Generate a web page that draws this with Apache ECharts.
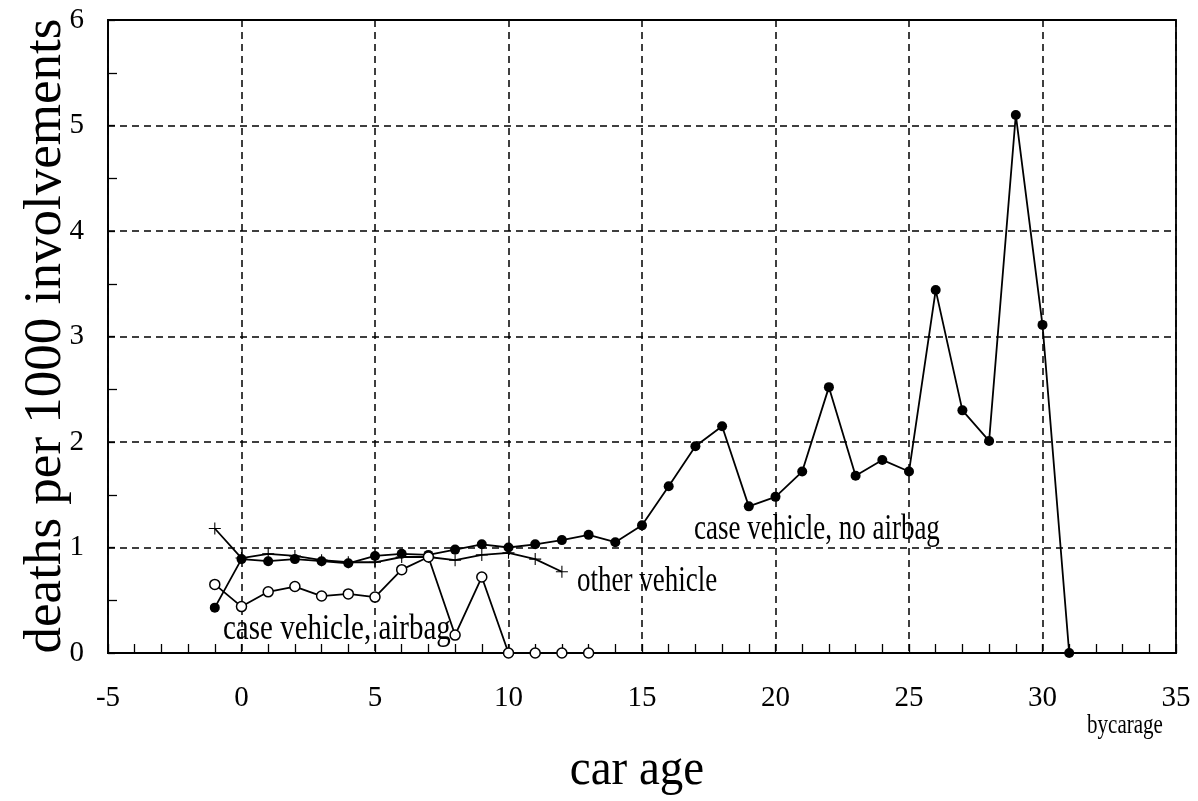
<!DOCTYPE html>
<html>
<head>
<meta charset="utf-8">
<script src="https://cdn.jsdelivr.net/npm/echarts@6/dist/echarts.min.js"></script>
<style>
  html, body { margin: 0; padding: 0; background: #fff; }
  #chart { width: 1198px; height: 801px; }
</style>
</head>
<body>
<div id="chart"></div>
<script>
// Deaths per 1000 involvements by car age
const noAirbagAge = [-1, 0, 1, 2, 3, 4, 5, 6, 7, 8, 9, 10, 11, 12, 13, 14, 15, 16, 17, 18, 19, 20, 21, 22, 23, 24, 25, 26, 27, 28, 29, 30, 31];
const noAirbag = [0.43, 0.89, 0.87, 0.89, 0.87, 0.85, 0.92, 0.94, 0.93, 0.98, 1.03, 1.00, 1.03, 1.07, 1.12, 1.05, 1.21, 1.58, 1.96, 2.15, 1.39, 1.48, 1.72, 2.52, 1.68, 1.83, 1.72, 3.44, 2.30, 2.01, 5.10, 3.11, 0.00];

const otherAge = [-1, 0, 1, 2, 3, 4, 5, 6, 7, 8, 9, 10, 11, 12];
const otherVehicle = [1.18, 0.90, 0.94, 0.92, 0.88, 0.86, 0.86, 0.91, 0.91, 0.88, 0.93, 0.95, 0.89, 0.77];

const airbagAge = [-1, 0, 1, 2, 3, 4, 5, 6, 7, 8, 9, 10, 11, 12, 13];
const airbag = [0.65, 0.44, 0.58, 0.63, 0.54, 0.56, 0.53, 0.79, 0.91, 0.17, 0.72, 0, 0, 0, 0];

const xTicks = [-5, 0, 5, 10, 15, 20, 25, 30, 35];
const yTicks = [0, 1, 2, 3, 4, 5, 6];

const pair = (xs, ys) => xs.map((x, i) => [x, ys[i]]);
const SERIF = "'Liberation Serif', 'Times New Roman', serif";
const PLUS = 'path://M-0.9,-10H0.9V10H-0.9Z M-10,-0.9H10V0.9H-10Z';

const chart = echarts.init(document.getElementById('chart'), null, { renderer: 'canvas' });

const dash = { color: '#000', width: 1.5, type: [7, 5] };

chart.setOption({
  animation: false,
  backgroundColor: '#fff',
  grid: {
    left: 108, right: 22, top: 20, bottom: 148,
    show: true, borderColor: '#000', borderWidth: 1.8, backgroundColor: 'transparent'
  },
  xAxis: {
    type: 'value',
    min: xTicks[0], max: xTicks[xTicks.length - 1], interval: 5,
    axisLine: { show: true, onZero: false, lineStyle: { color: '#000', width: 1.8 } },
    axisTick: { show: true, inside: true, length: 9, lineStyle: { color: '#000', width: 1.3 } },
    minorTick: { show: true, splitNumber: 5, length: 9, lineStyle: { color: '#000', width: 1.3 } },
    splitLine: { show: true, lineStyle: dash },
    axisLabel: {
      margin: 31, color: '#000', fontFamily: SERIF, fontSize: 29,
      formatter: v => xTicks.includes(v) ? String(v) : ''
    }
  },
  yAxis: {
    type: 'value',
    min: yTicks[0], max: yTicks[yTicks.length - 1], interval: 1,
    axisLine: { show: true, onZero: false, lineStyle: { color: '#000', width: 1.8 } },
    axisTick: { show: true, inside: true, length: 7, lineStyle: { color: '#000', width: 1.3 } },
    minorTick: { show: true, splitNumber: 2, length: 9, lineStyle: { color: '#000', width: 1.3 } },
    splitLine: { show: true, lineStyle: dash },
    axisLabel: {
      margin: 24, color: '#000', fontFamily: SERIF, fontSize: 29,
      formatter: v => yTicks.includes(v) ? String(v) : ''
    }
  },
  series: [
    {
      name: 'case vehicle, no airbag',
      type: 'line', data: pair(noAirbagAge, noAirbag), clip: false,
      symbol: 'circle', symbolSize: 10,
      lineStyle: { color: '#000', width: 1.8 },
      itemStyle: { color: '#000', borderWidth: 0 }
    },
    {
      name: 'other vehicle',
      type: 'line', data: pair(otherAge, otherVehicle), clip: false,
      symbol: PLUS, symbolSize: 12,
      lineStyle: { color: '#000', width: 1.8 },
      itemStyle: { color: '#000', borderWidth: 0 }
    },
    {
      name: 'case vehicle, airbag',
      type: 'line', data: pair(airbagAge, airbag), clip: false,
      symbol: 'circle', symbolSize: 10,
      lineStyle: { color: '#000', width: 1.8 },
      itemStyle: { color: '#fff', borderColor: '#000', borderWidth: 1.5 }
    }
  ],
  graphic: [
    { type: 'text', x: 223, y: 629, scaleY: 1.25, z: 10,
      style: { text: 'case vehicle, airbag', font: '29px ' + SERIF, fill: '#000', textAlign: 'left', textVerticalAlign: 'middle' } },
    { type: 'text', x: 577, y: 582, scaleY: 1.3, z: 10,
      style: { text: 'other vehicle', font: '27px ' + SERIF, fill: '#000', textAlign: 'left', textVerticalAlign: 'middle' } },
    { type: 'text', x: 694, y: 529, scaleY: 1.35, z: 10,
      style: { text: 'case vehicle, no airbag', font: '27px ' + SERIF, fill: '#000', textAlign: 'left', textVerticalAlign: 'middle' } },
    { type: 'text', x: 637, y: 770, scaleY: 1.1, z: 10,
      style: { text: 'car age', font: '47px ' + SERIF, fill: '#000', textAlign: 'center', textVerticalAlign: 'middle' } },
    { type: 'text', x: 1125, y: 726, scaleY: 1.3, z: 10,
      style: { text: 'bycarage', font: '21px ' + SERIF, fill: '#000', textAlign: 'center', textVerticalAlign: 'middle' } },
    { type: 'text', x: 46, y: 336, rotation: Math.PI / 2, scaleX: 1.02, z: 10,
      style: { text: 'deaths per 1000 involvements', font: '52px ' + SERIF, fill: '#000', textAlign: 'center', textVerticalAlign: 'middle' } }
  ]
});
</script>
</body>
</html>
